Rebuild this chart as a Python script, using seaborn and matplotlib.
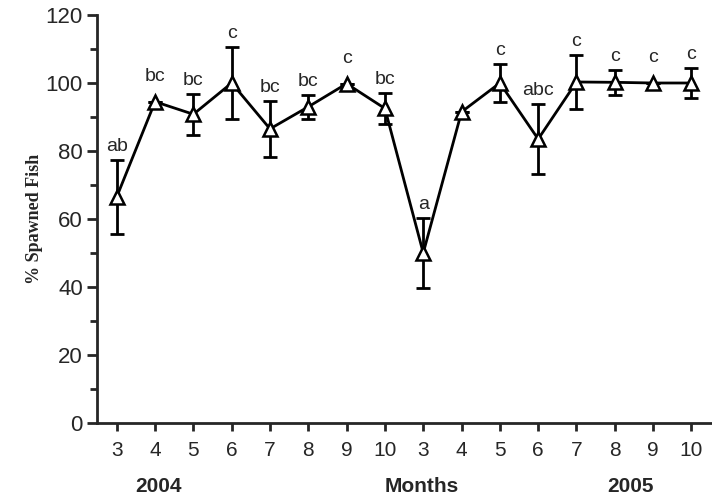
import numpy as np
import pandas as pd
import seaborn as sns
from matplotlib import pyplot as plt

# monthly % of spawned fish, 2004 (3-10) then 2005 (3-10)
months = ['3', '4', '5', '6', '7', '8', '9', '10', '3', '4', '5', '6', '7', '8', '9', '10']
spawned = [66.5, 94.5, 90.8, 100, 86.5, 93, 99.8, 92.5, 50, 91.5, 100, 83.5, 100.3, 100.2, 100, 100]
sem = [10.8, 0, 6, 10.5, 8.2, 3.5, 0, 4.5, 10.2, 0, 5.6, 10.3, 8, 3.7, 0, 4.5]
letters = ['ab', 'bc', 'bc', 'c', 'bc', 'bc', 'c', 'bc', 'a', '', 'c', 'abc', 'c', 'c', 'c', 'c']
year_labels = ['2004', 'Months', '2005']
year_pos = [1.1, 7.95, 13.4]

sns.set_style('ticks')
plt.rcParams['font.family'] = ['Liberation Sans', 'DejaVu Sans']

df = pd.DataFrame({'idx': np.arange(len(spawned)), 'spawned': spawned, 'sem': sem})

fig = plt.figure(figsize=(7.12, 5.01), dpi=100)
ax = fig.add_axes([0.136, 0.156, 0.862, 0.814])

ax.errorbar(df['idx'], df['spawned'], yerr=df['sem'], fmt='none', ecolor='black',
            elinewidth=2, capsize=5, capthick=2, zorder=2)
sns.lineplot(data=df, x='idx', y='spawned', ax=ax, color='black', linewidth=2,
             marker='^', markersize=10, markerfacecolor='white', markeredgecolor='black',
             markeredgewidth=1.8, zorder=3)

# significance letters just above each error bar (or marker when no bar)
for i, lab in enumerate(letters):
    if lab:
        ax.text(i, spawned[i] + max(sem[i], 3.5) + 1.5, lab, ha='center', va='bottom', fontsize=14)

ax.set_xlim(-0.52, 15.5)
ax.set_ylim(0, 120)
ax.set_xticks(df['idx'])
ax.set_xticklabels(months, fontsize=15)
ax.set_yticks([0, 20, 40, 60, 80, 100, 120])
ax.set_yticks([10, 30, 50, 70, 90, 110], minor=True)
ax.tick_params(axis='y', labelsize=16, width=2, length=7, pad=3)
ax.tick_params(axis='y', which='minor', width=2, length=5)
ax.tick_params(axis='x', width=2, length=6, pad=7)
ax.set_xlabel('')
ax.set_ylabel('% Spawned Fish', family='Liberation Serif', fontweight='bold', fontsize=13, labelpad=2)

for i, lab in enumerate(year_labels):
    ax.text(year_pos[i], -18.7, lab, ha='center', va='center', fontsize=15, fontweight='bold')

sns.despine(ax=ax)
for s in ['left', 'bottom']:
    ax.spines[s].set_linewidth(2)

plt.savefig('out.png', dpi=100)
